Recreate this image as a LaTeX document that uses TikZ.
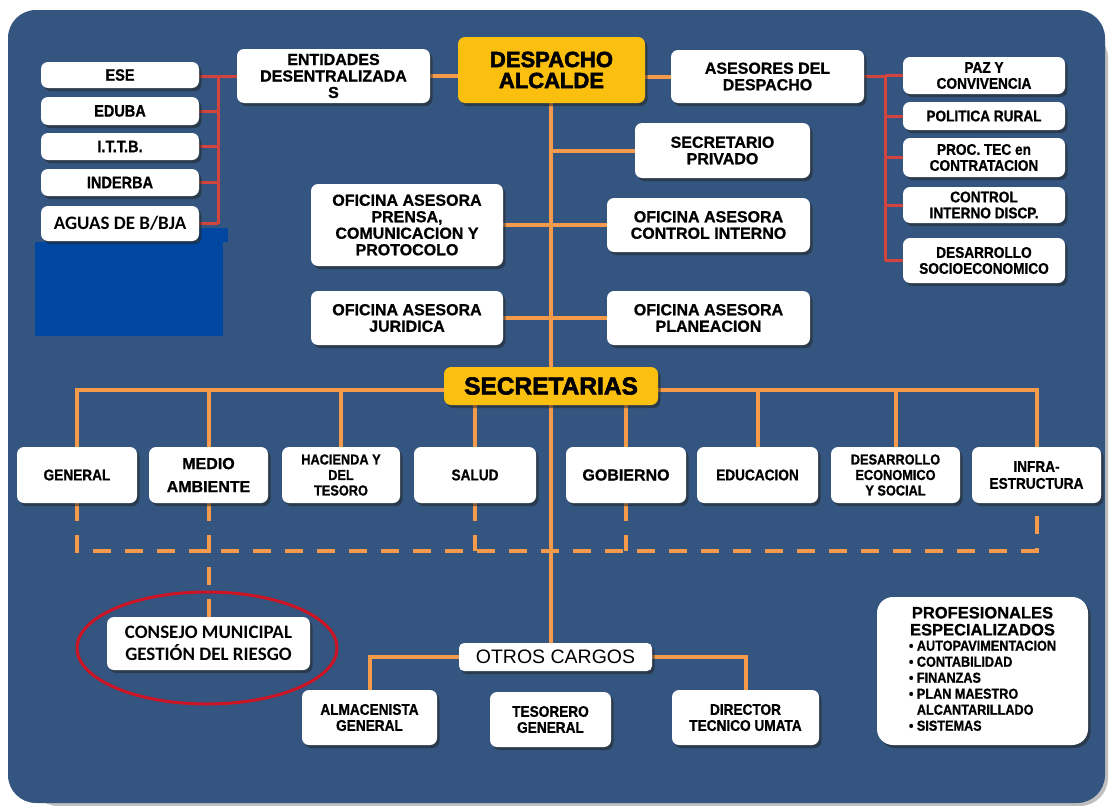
\documentclass[tikz,border=0pt]{standalone}
\usepackage{fontspec}
\setmainfont{Liberation Sans}[BoldFeatures={FakeBold=0.9}]
\newfontfamily\condfont{Liberation Sans}[FakeStretch=0.88, BoldFeatures={FakeBold=0.9}]
\newfontfamily\heavyfont{Liberation Sans}[BoldFeatures={FakeBold=2.5}]
\newfontfamily\calfont{Carlito}
\usetikzlibrary{shadows}
\pgfdeclarelayer{back}
\pgfdeclarelayer{wires}
\pgfsetlayers{back,wires,main}

\definecolor{panel}{HTML}{335580}
\definecolor{deepblue}{HTML}{0047A1}
\definecolor{gold}{HTML}{FBBF10}
\definecolor{trunk}{HTML}{F39A4B}
\definecolor{rednet}{HTML}{D2453F}
\definecolor{ringred}{HTML}{CC1424}

\tikzset{
  card/.style={fill=white, rounded corners=7pt, align=center, inner sep=1pt,
    text=black, drop shadow={shadow xshift=2.5pt, shadow yshift=-3pt, opacity=.55, fill=black!85}},
  goldcard/.style={card, fill=gold},
  wh/.style 2 args={minimum width=#1pt, minimum height=#2pt},
  link/.style={draw=trunk, line width=4pt},
  redlink/.style={draw=rednet, line width=3pt},
  dashlink/.style={link, dash pattern=on 18pt off 14pt},
  ring/.style={draw=ringred, line width=3pt},
  topfnt/.style={font=\bfseries\fontsize{16}{16.5}\selectfont},
  esefnt/.style={font=\condfont\bfseries\fontsize{16.5}{17}\selectfont},
  calfnt/.style={font=\calfont\bfseries\fontsize{19}{22}\selectfont},
  heavyfnt/.style={font=\heavyfont\bfseries\fontsize{22}{21}\selectfont},
  narrowfnt/.style={font=\condfont\bfseries\fontsize{15.5}{16}\selectfont},
  tightfnt/.style={font=\condfont\bfseries\fontsize{14.5}{15.5}\selectfont},
}

\newcommand\proflist{{\condfont\bfseries\fontsize{14.4}{16}\selectfont
  \begin{tabular}{@{}l@{\ }l@{}}
  • & AUTOPAVIMENTACION\\
  • & CONTABILIDAD\\
  • & FINANZAS\\
  • & PLAN MAESTRO\\
    & ALCANTARILLADO\\
  • & SISTEMAS
  \end{tabular}}}

\begin{document}
\begin{tikzpicture}[x=1pt,y=-1pt]
\useasboundingbox (0,0) rectangle (1109,806);

% background panel and the blue block
\begin{pgfonlayer}{back}
  \fill[black!25, rounded corners=28pt] (30,30) rectangle (1108,806);
  \fill[panel, rounded corners=28pt] (8,10) rectangle (1105,803);
  \fill[deepblue] (35,242) rectangle (223,336);
  \fill[deepblue] (199,228) rectangle (228,242);
\end{pgfonlayer}

% decentralised entities
\node[card, wh={158}{26}, esefnt] (ese) at (120,75) {ESE};
\node[card, wh={158}{28}, esefnt] (eduba) at (120,111) {EDUBA};
\node[card, wh={158}{27}, esefnt] (ittb) at (120,146.5) {I.T.T.B.};
\node[card, wh={158}{27}, esefnt] (inderba) at (120,182.5) {INDERBA};
\node[card, wh={158}{35}, calfnt] (aguas) at (120,223.5) {AGUAS DE B/BJA};
\node[card, wh={193}{54}, topfnt] (ent) at (333.5,76) {ENTIDADES\\DESENTRALIZADA\\S};

% head office
\node[goldcard, wh={187}{66}, heavyfnt] (desp) at (551.5,70) {DESPACHO\\ALCALDE};
\node[card, wh={193}{53}, topfnt] (ases) at (767.5,76.5) {ASESORES DEL\\DESPACHO};

% advisers
\node[card, wh={162}{37}, narrowfnt] (paz) at (984,75.5) {PAZ Y\\CONVIVENCIA};
\node[card, wh={162}{28}, narrowfnt] (pol) at (984,116) {POLITICA RURAL};
\node[card, wh={162}{39}, narrowfnt] (proc) at (984,157.5) {PROC. TEC en\\CONTRATACION};
\node[card, wh={162}{36}, narrowfnt] (ctrl) at (984,205) {CONTROL\\INTERNO DISCP.};
\node[card, wh={162}{45}, narrowfnt] (dsoc) at (984,260.5) {DESARROLLO\\SOCIOECONOMICO};

% advisory offices
\node[card, wh={175}{55}, topfnt] (sec) at (722.5,150.5) {SECRETARIO\\PRIVADO};
\node[card, wh={192}{82}, topfnt] (pren) at (407,225) {OFICINA ASESORA\\PRENSA,\\COMUNICACION Y\\PROTOCOLO};
\node[card, wh={203}{54}, topfnt] (cint) at (708.5,225) {OFICINA ASESORA\\CONTROL INTERNO};
\node[card, wh={192}{54}, topfnt] (jur) at (407,318) {OFICINA ASESORA\\JURIDICA};
\node[card, wh={203}{54}, topfnt] (plan) at (708.5,318) {OFICINA ASESORA\\PLANEACION};

% secretariats
\node[goldcard, wh={214}{38}, font=\heavyfont\bfseries\fontsize{24.5}{24.5}\selectfont] (secr) at (551,386) {SECRETARIAS};
\node[card, wh={120}{56}, narrowfnt] (gen) at (77,475) {GENERAL};
\node[card, wh={119}{56}, font=\bfseries\fontsize{16}{23}\selectfont] (med) at (208.5,475) {MEDIO\\AMBIENTE};
\node[card, wh={118}{56}, tightfnt] (hac) at (341,475) {HACIENDA Y\\DEL\\TESORO};
\node[card, wh={122}{56}, narrowfnt] (sal) at (475,475) {SALUD};
\node[card, wh={120}{56}, font=\bfseries\fontsize{16}{17}\selectfont] (gob) at (626,475) {GOBIERNO};
\node[card, wh={121}{56}, narrowfnt] (edu) at (757.5,475) {EDUCACION};
\node[card, wh={129}{56}, tightfnt] (des) at (895.5,475) {DESARROLLO\\ECONOMICO\\Y SOCIAL};
\node[card, wh={129}{56}, font=\condfont\bfseries\fontsize{15.5}{17}\selectfont] (inf) at (1036.5,475) {INFRA-\\ESTRUCTURA};

% risk council and other posts
\node[card, wh={203}{53}, calfnt] (cons) at (208.5,643.5) {CONSEJO MUNICIPAL\\GESTIÓN DEL RIESGO};
\node[card, wh={193}{28}, rounded corners=5pt, font=\fontsize{19.5}{20}\selectfont] (otros) at (555.5,657) {OTROS CARGOS};
\node[card, wh={135}{55}, narrowfnt] (alm) at (369.5,717.5) {ALMACENISTA\\GENERAL};
\node[card, wh={121}{55}, narrowfnt] (tes) at (550.5,719.5) {TESORERO\\GENERAL};
\node[card, wh={147}{55}, narrowfnt] (dir) at (745.5,717.5) {DIRECTOR\\TECNICO UMATA};
\node[card, wh={211}{148}, rounded corners=16pt, font=\bfseries\fontsize{16.5}{17}\selectfont] (prof) at (982.5,671)
  {\begin{tabular}{@{}c@{}}PROFESIONALES\\ESPECIALIZADOS\\[-1pt]\proflist\end{tabular}};

\draw[ring] (207,648) ellipse [x radius=130pt, y radius=56pt];

% connectors
\begin{pgfonlayer}{wires}
  \coordinate (ltree) at (218,0);
  \coordinate (rtree) at (885,0);
  \coordinate (hbar) at (551,390);
  \coordinate (dbar) at (551,551);

  % red trees
  \draw[redlink] (ent.west) -- (ent.west -| ese.east);
  \draw[redlink] (ese.east -| ltree) -- (aguas.east -| ltree);
  \foreach \n in {eduba,ittb,inderba,aguas}
    \draw[redlink] (\n.east) -- (\n.east -| ltree);
  \draw[redlink] (ases.east) -- (ases.east -| rtree) -- (dsoc.west -| rtree);
  \foreach \n in {pol,proc,ctrl,dsoc}
    \draw[redlink] (\n.west) -- (\n.west -| rtree);
  \draw[redlink] (paz.west) -- (paz.west -| rtree);

  % orange hierarchy
  \draw[link] (ent.east) -- (ent.east -| desp.west);
  \draw[link] (ases.west -| desp.east) -- (ases.west);
  \draw[link] (desp.south -| hbar) -- (otros.north -| hbar);
  \draw[link] (sec.west -| hbar) -- (sec.west);
  \draw[link] (pren.east) -- (cint.west);
  \draw[link] (jur.east) -- (plan.west);
  \draw[link] (gen.north) |- (hbar);
  \draw[link] (inf.north) |- (hbar);
  \foreach \n in {med,hac,edu,des}
    \draw[link] (\n.north) -- (\n.north |- hbar);
  \draw[link] (sal.north |- secr.south) -- (sal.north);
  \draw[link] (gob.north |- secr.south) -- (gob.north);
  \draw[link] (otros.west) -| (alm.north);
  \draw[link] (otros.east) -| (dir.north);

  % dashed links
  \draw[dashlink] (gen.south) |- (inf.south |- dbar) -- (inf.south);
  \draw[dashlink] (med.south) -- (cons.north);
  \draw[dashlink] (sal.south) -- (sal.south |- dbar);
  \draw[dashlink] (gob.south) -- (gob.south |- dbar);
\end{pgfonlayer}
\end{tikzpicture}
\end{document}
